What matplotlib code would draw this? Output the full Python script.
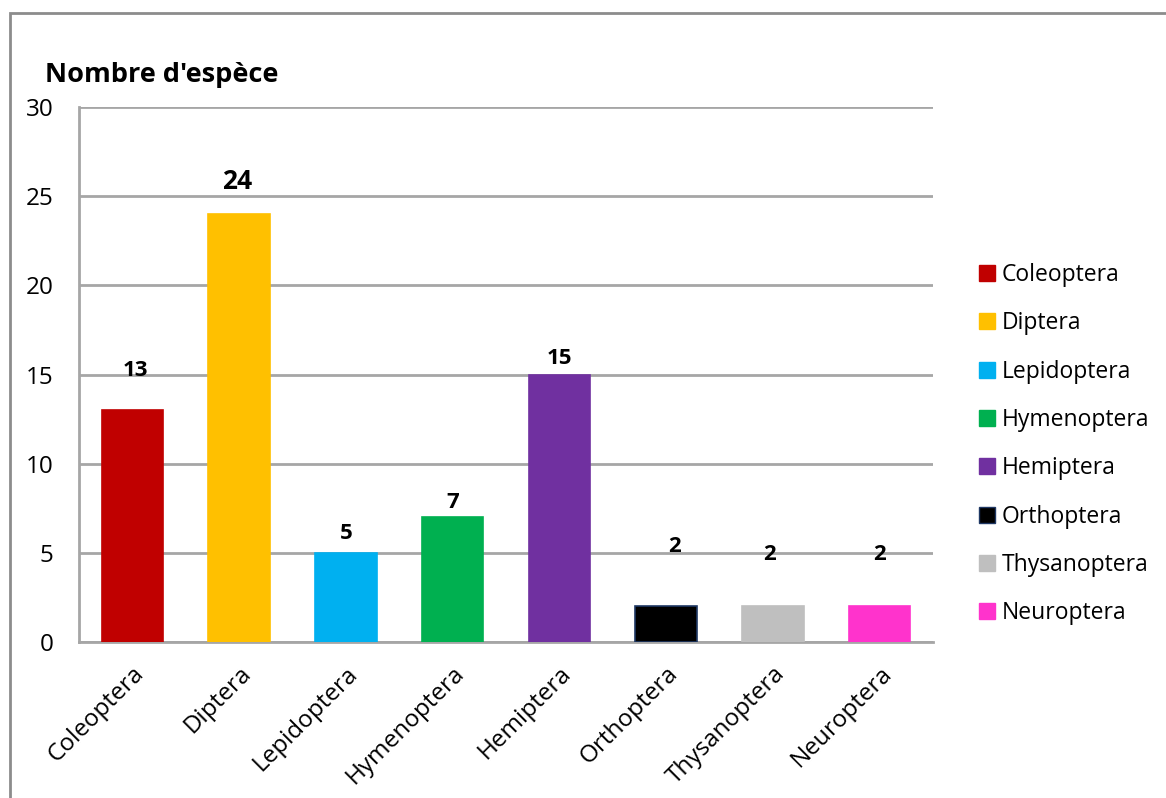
import matplotlib
matplotlib.use("Agg")
import matplotlib.pyplot as plt
from matplotlib.patches import Rectangle, Patch

# data
orders = ["Coleoptera", "Diptera", "Lepidoptera", "Hymenoptera",
          "Hemiptera", "Orthoptera", "Thysanoptera", "Neuroptera"]
counts = [13, 24, 5, 7, 15, 2, 2, 2]
colors = ["#c00000", "#ffc000", "#00b0f0", "#00b050",
          "#7030a0", "#000000", "#bfbfbf", "#ff33cc"]
# where Excel left the value labels (data units)
label_y = [15.25, 25.85, 6.1, 7.8, 15.9, 5.33, 4.93, 4.93]
label_dx = [0.03, -0.02, 0.0, 0.0, 0.0, 0.08, -0.03, 0.0]
label_size = [16, 19, 16, 16, 16, 16, 16, 16]

plt.rcParams['font.family'] = ['Open Sans', 'DejaVu Sans']
GRID = "#a6a6a6"

fig = plt.figure(figsize=(11.66, 7.98), dpi=100)
W, H = 1166, 798
ax = fig.add_axes([79 / W, 1 - 642 / H, (933 - 79) / W, (642 - 107) / H])

x = range(len(orders))
edges = ["#1f3864" if c == "#000000" else c for c in colors]
ax.bar(x, counts, width=0.575, color=colors, edgecolor=edges, linewidth=1.2, zorder=3)

for i, (v, ly) in enumerate(zip(counts, label_y)):
    ax.text(i + label_dx[i], ly, str(v), ha="center", va="center",
            fontsize=label_size[i], fontweight="bold", zorder=4)

ax.set_xlim(-0.5, len(orders) - 0.5)
ax.set_ylim(0, 30)
ax.set_yticks(range(0, 31, 5))
ax.yaxis.grid(True, color=GRID, linewidth=2, zorder=0)
ax.set_axisbelow(True)
for s in ["top", "right"]:
    ax.spines[s].set_visible(False)
for s in ["left", "bottom"]:
    ax.spines[s].set_color(GRID)
    ax.spines[s].set_linewidth(2)
ax.tick_params(axis="both", length=0, labelsize=17.5)
ax.tick_params(axis="y", pad=18.5)
ax.set_xticks(list(x))
ax.set_xticklabels(orders, rotation=45, ha="right", rotation_mode="anchor")
ax.tick_params(axis="x", pad=14)

fig.text(45 / W, 1 - 75 / H, "Nombre d'espèce", fontsize=19.5, fontweight="bold",
         ha="left", va="center")

handles = [Patch(facecolor=c, edgecolor=e) for c, e in zip(colors, edges)]
fig.legend(handles, orders, loc="upper left", bbox_to_anchor=(970 / W, 1 - 254 / H),
           frameon=False, fontsize=16.5, handlelength=0.7, handleheight=0.7,
           handletextpad=0.3, labelspacing=1.06, borderaxespad=0)

# outer chart frame
fig.add_artist(Rectangle((10 / W, -0.1), 1.2, 1 - 13 / H + 0.1,
                         transform=fig.transFigure, fill=False,
                         edgecolor="#8c8c8c", linewidth=2))

fig.savefig("out.png", dpi=100)
